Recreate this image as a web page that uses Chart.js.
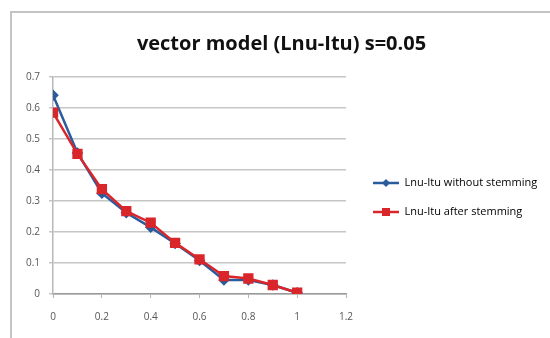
<!DOCTYPE html>
<html lang="en">
<head>
<meta charset="UTF-8">
<title>vector model</title>
<script src="https://cdn.jsdelivr.net/npm/chart.js"></script>
<style>
  html, body { margin: 0; padding: 0; background: #fff; }
  #wrap { position: relative; width: 550px; height: 338px; }
  #frame { position: absolute; left: 10px; top: 11px; width: 560px; height: 360px;
           border-top: 2px solid #c4c4c4; border-left: 2px solid #c4c4c4; pointer-events: none; }
</style>
</head>
<body>
<div id="wrap">
  <canvas id="myChart" width="550" height="338"></canvas>
  <div id="frame"></div>
</div>
<script>
  // s values on the x axis
  const sValues = [0, 0.1, 0.2, 0.3, 0.4, 0.5, 0.6, 0.7, 0.8, 0.9, 1];
  // Lnu-Itu without stemming
  const withoutStemming = [0.641, 0.455, 0.325, 0.262, 0.215, 0.163, 0.108, 0.045, 0.045, 0.029, 0.004];
  // Lnu-Itu after stemming
  const afterStemming = [0.585, 0.452, 0.338, 0.267, 0.23, 0.165, 0.112, 0.058, 0.05, 0.029, 0.004];

  const yTickLabels = ['0', '0.1', '0.2', '0.3', '0.4', '0.5', '0.6', '0.7'];
  const xTickLabels = ['0', '0.2', '0.4', '0.6', '0.8', '1', '1.2'];

  const seriesNames = ['Lnu-Itu without stemming', 'Lnu-Itu after stemming'];
  const blue = '#2a5b9c';
  const red = '#d8262b';

  // legend icon: short line with the marker on it
  function legendIcon(color, shape) {
    const c = document.createElement('canvas');
    c.width = 26; c.height = 10;
    const g = c.getContext('2d');
    g.strokeStyle = color; g.lineWidth = 2.5;
    g.beginPath(); g.moveTo(0, 5); g.lineTo(26, 5); g.stroke();
    g.fillStyle = color;
    if (shape === 'diamond') {
      g.beginPath(); g.moveTo(13, 1); g.lineTo(17, 5); g.lineTo(13, 9); g.lineTo(9, 5); g.closePath(); g.fill();
    } else {
      g.fillRect(9, 1, 8, 8);
    }
    return c;
  }
  const icons = [legendIcon(blue, 'diamond'), legendIcon(red, 'square')];

  const toPoints = (ys) => sValues.map((x, i) => ({ x: x, y: ys[i] }));

  const ctx = document.getElementById('myChart');
  new Chart(ctx, {
    type: 'line',
    data: {
      datasets: [{
        label: seriesNames[0],
        data: toPoints(withoutStemming),
        borderColor: blue,
        backgroundColor: blue,
        borderWidth: 2.5,
        pointStyle: 'rectRot',
        pointRadius: 4,
        pointHoverRadius: 4,
        order: 2
      }, {
        label: seriesNames[1],
        data: toPoints(afterStemming),
        borderColor: red,
        backgroundColor: red,
        borderWidth: 2.5,
        pointStyle: 'rect',
        pointRadius: 5.5,
        pointHoverRadius: 5.5,
        order: 1
      }]
    },
    options: {
      responsive: false,
      animation: false,
      layout: { padding: { top: 32, left: 17, right: 4, bottom: 2 } },
      plugins: {
        title: {
          display: true,
          text: 'vector model (Lnu-Itu) s=0.05',
          color: '#111',
          font: { family: 'Open Sans', size: 20, weight: 'bold' },
          padding: { top: 0, bottom: 21 }
        },
        legend: {
          position: 'right',
          labels: {
            usePointStyle: true,
            pointStyleWidth: 26,
            color: '#333',
            font: { family: 'Open Sans', size: 11 },
            padding: 18,
            generateLabels: (chart) => seriesNames.map((name, i) => ({
              text: name,
              pointStyle: icons[i],
              fillStyle: i ? red : blue,
              strokeStyle: i ? red : blue,
              lineWidth: 0,
              hidden: false,
              datasetIndex: i
            }))
          }
        },
        tooltip: { enabled: false }
      },
      scales: {
        x: {
          type: 'linear',
          min: 0,
          max: 1.2,
          ticks: {
            stepSize: 0.2,
            color: '#555',
            font: { family: 'Open Sans', size: 10 },
            padding: 13,
            callback: (v, i) => xTickLabels[i]
          },
          grid: { display: true, drawOnChartArea: false, tickLength: 4, color: '#b5b5b5' },
          border: { color: '#9a9a9a', width: 1.5 }
        },
        y: {
          min: 0,
          max: 0.7,
          ticks: {
            stepSize: 0.1,
            color: '#555',
            font: { family: 'Open Sans', size: 10 },
            padding: 9,
            callback: (v, i) => yTickLabels[i]
          },
          grid: { color: '#c6c6c6', lineWidth: 1.5, tickLength: 4 },
          border: { color: '#b8b8b8', width: 1.5 }
        }
      }
    },
    plugins: [{
      id: 'legendBox',
      beforeInit(chart) {
        const fit = chart.legend.fit;
        chart.legend.fit = function () {
          fit.call(this);
          this.width = 200;
        };
      },
      afterLayout(chart) {
        // keep a gap between the plot and the legend entries
        chart.legend.left += 9;
        chart.legend.top += 27;
      }
    }]
  });
</script>
</body>
</html>
